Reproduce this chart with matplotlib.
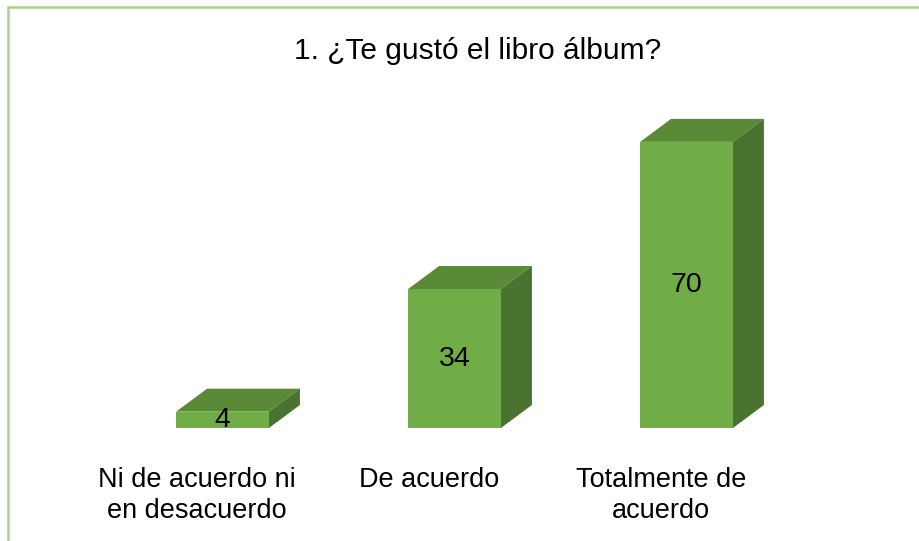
import matplotlib.pyplot as plt
from matplotlib.patches import Polygon, Rectangle

plt.rcParams["font.family"] = ["Liberation Sans", "DejaVu Sans"]

# data
categories = ["Ni de acuerdo ni\nen desacuerdo", "De acuerdo", "Totalmente de\nacuerdo"]
values = [4, 34, 70]
title = "1. ¿Te gustó el libro álbum?"

front_col = "#70ad47"
top_col = "#5a8a38"
side_col = "#4a7230"

W, H, DPI = 920, 541, 100
fig = plt.figure(figsize=(W / DPI, H / DPI), dpi=DPI)

# chart border (right/bottom edges run off the picture)
fig.patches.append(Rectangle((8 / W, -0.05), 1.0, 1 - 7 / H + 0.05,
                             transform=fig.transFigure, fill=False,
                             edgecolor="#a9d18e", linewidth=1.8))

ax_left, ax_right = 13.7, 825.7
ax_bottom = H - 428
ax_top = H - 101
ax = fig.add_axes([ax_left / W, ax_bottom / H,
                   (ax_right - ax_left) / W, (ax_top - ax_bottom) / H])
ax.set_xlim(-0.9, 2.6)
ax.set_ylim(0, 80)
ax.axis("off")

# depth of the 3d look, in pixels -> data units
px_x = (ax_right - ax_left) / 3.5
px_y = (ax_top - ax_bottom) / 80
ddx = 31 / px_x
ddy = 23 / px_y

bw = 0.4
xs = list(range(len(values)))
ax.bar(xs, values, width=bw, color=front_col, zorder=3)

for x, v in zip(xs, values):
    x0, x1 = x - bw / 2, x + bw / 2
    top = Polygon([(x0, v), (x1, v), (x1 + ddx, v + ddy), (x0 + ddx, v + ddy)],
                  closed=True, facecolor=top_col, edgecolor="none", zorder=2,
                  clip_on=False)
    side = Polygon([(x1, 0), (x1, v), (x1 + ddx, v + ddy), (x1 + ddx, ddy)],
                   closed=True, facecolor=side_col, edgecolor="none", zorder=2,
                   clip_on=False)
    ax.add_patch(top)
    ax.add_patch(side)
    ax.text(x, v / 2, str(v), ha="center", va="center", fontsize=20.5,
            color="black", zorder=4)
    ax.text(x - 0.11, -9.5, categories[x], ha="center", va="top",
            fontsize=19.5, linespacing=1.27, clip_on=False)

fig.text(478 / W, 1 - 51 / H, title, ha="center", va="center", fontsize=21.5)

fig.savefig("out.png", dpi=DPI)
